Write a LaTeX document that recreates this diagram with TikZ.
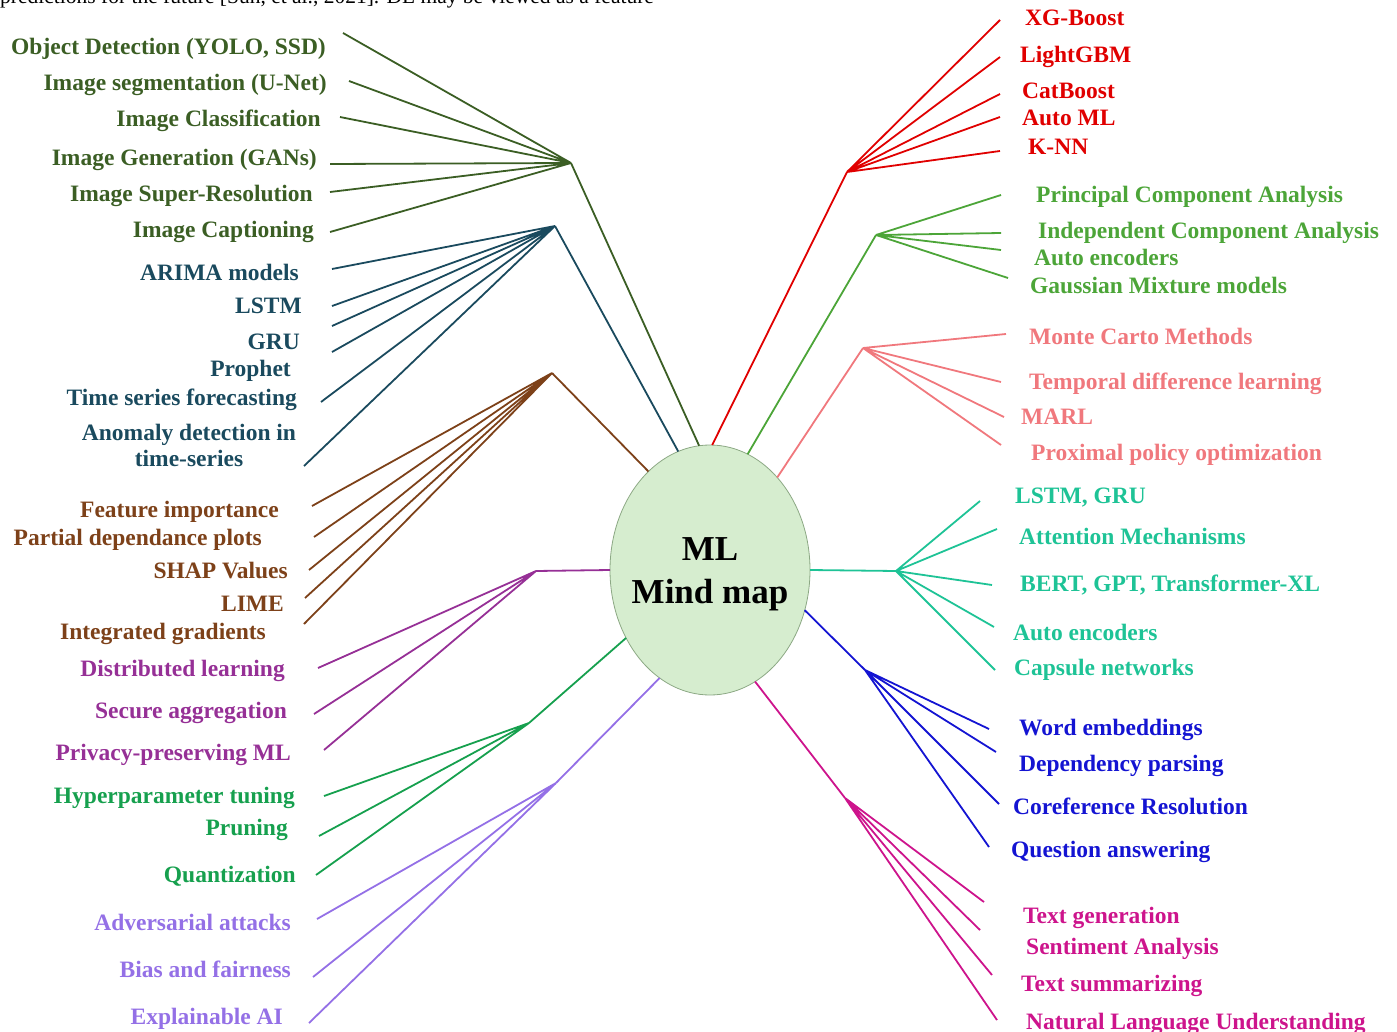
\documentclass[tikz,border=0pt]{standalone}
\usepackage{fontspec}
\setmainfont{Liberation Serif}
\usetikzlibrary{shapes.geometric}
\definecolor{cA}{HTML}{3B5E24}
\definecolor{cB}{HTML}{1A4A5E}
\definecolor{cC}{HTML}{7D4119}
\definecolor{cD}{HTML}{963096}
\definecolor{cE}{HTML}{16A04E}
\definecolor{cF}{HTML}{9470E6}
\definecolor{cG}{HTML}{E00000}
\definecolor{cH}{HTML}{4CA538}
\definecolor{cI}{HTML}{F0787D}
\definecolor{cJ}{HTML}{1EC396}
\definecolor{cK}{HTML}{1414D2}
\definecolor{cL}{HTML}{CD148C}
\definecolor{efill}{HTML}{D6EDCF}
\definecolor{eline}{HTML}{8CA884}
\begin{document}
\begin{tikzpicture}[x=1pt,y=-1pt,
  lbl/.style={font=\fontsize{23.5}{26}\selectfont\bfseries, inner sep=0pt, text height=15pt, text depth=0pt},
  ll/.style={lbl, anchor=east},
  rl/.style={lbl, anchor=west},
  ln/.style={line width=1.8pt}]
\useasboundingbox (0,0) rectangle (1397,1032);

% top cut-off text line (cut off in the reference as well)
\node[anchor=base west, inner sep=0pt, font=\fontsize{21.5}{24}\selectfont] (top) at (0,4) {predictions for the future [Sun, et al., 2021]. DL may be viewed as a feature-};

% centre
\node[ellipse, draw=eline, fill=efill, line width=0.8pt, minimum width=200pt, minimum height=250pt, inner sep=0pt, outer sep=0pt] (c) at (710,570) {};
\node[align=center, inner sep=0pt, font=\fontsize{35}{43}\selectfont\bfseries] (ct) at (710,574) {ML\\Mind map};

% ---------- Group A : computer vision ----------
\coordinate (hA) at (571,163);
\coordinate (a1) at (343,33);
\coordinate (a2) at (349,81);
\coordinate (a3) at (340,117);
\coordinate (a4) at (330,164);
\coordinate (a5) at (330,192);
\coordinate (a6) at (330,232);
\draw[ln, cA] (c.95) -- (hA);
\draw[ln, cA] (hA) -- (a1) (hA) -- (a2) (hA) -- (a3) (hA) -- (a4) (hA) -- (a5) (hA) -- (a6);
\node[ll, text=cA] (la1) at (326,47) {Object Detection (YOLO, SSD)};
\node[ll, text=cA] (la2) at (327,83) {Image segmentation (U-Net)};
\node[ll, text=cA] (la3) at (321,119) {Image Classification};
\node[ll, text=cA] (la4) at (317,158) {Image Generation (GANs)};
\node[ll, text=cA] (la5) at (313,194) {Image Super-Resolution};
\node[ll, text=cA] (la6) at (314,230) {Image Captioning};

% ---------- Group B : time series ----------
\coordinate (hB) at (555,226);
\coordinate (b1) at (332,269);
\coordinate (b2) at (332,306);
\coordinate (b3) at (332,326);
\coordinate (b4) at (332,352);
\coordinate (b5) at (321,402);
\coordinate (b6) at (304,466);
\draw[ln, cB] (c.105) -- (hB);
\draw[ln, cB] (hB) -- (b1) (hB) -- (b2) (hB) -- (b3) (hB) -- (b4) (hB) -- (b5) (hB) -- (b6);
\node[ll, text=cB] (lb1) at (299,273) {ARIMA models};
\node[ll, text=cB] (lb2) at (302,306) {LSTM};
\node[ll, text=cB] (lb3) at (300,342) {GRU};
\node[ll, text=cB] (lb4) at (291,369) {Prophet};
\node[ll, text=cB] (lb5) at (297,398) {Time series forecasting};
\node[lbl, text=cB, align=center, text height=, text depth=] (lb6) at (189,445) {Anomaly detection in\\time-series};

% ---------- Group C : explainability ----------
\coordinate (hC) at (552,373);
\coordinate (c1) at (312,506);
\coordinate (c2) at (314,537);
\coordinate (c3) at (309,570);
\coordinate (c4) at (305,598);
\coordinate (c5) at (304,624);
\draw[ln, cC] (c.122) -- (hC);
\draw[ln, cC] (hC) -- (c1) (hC) -- (c2) (hC) -- (c3) (hC) -- (c4) (hC) -- (c5);
\node[ll, text=cC] (lc1) at (279,510) {Feature importance};
\node[ll, text=cC] (lc2) at (262,538) {Partial dependance plots};
\node[ll, text=cC] (lc3) at (288,571) {SHAP Values};
\node[ll, text=cC] (lc4) at (284,604) {LIME};
\node[ll, text=cC] (lc5) at (266,632) {Integrated gradients};

% ---------- Group D : federated ----------
\coordinate (hD) at (536,571);
\coordinate (d1) at (318,668);
\coordinate (d2) at (314,714);
\coordinate (d3) at (324,750);
\draw[ln, cD] (c.180) -- (hD);
\draw[ln, cD] (hD) -- (d1) (hD) -- (d2) (hD) -- (d3);
\node[ll, text=cD] (ld1) at (285,669) {Distributed learning};
\node[ll, text=cD] (ld2) at (287,711) {Secure aggregation};
\node[ll, text=cD] (ld3) at (291,753) {Privacy-preserving ML};

% ---------- Group E : optimisation ----------
\coordinate (hE) at (529,723);
\coordinate (e1) at (324,796);
\coordinate (e2) at (319,836);
\coordinate (e3) at (316,875);
\draw[ln, cE] (c.219) -- (hE);
\draw[ln, cE] (hE) -- (e1) (hE) -- (e2) (hE) -- (e3);
\node[ll, text=cE] (le1) at (295,796) {Hyperparameter tuning};
\node[ll, text=cE] (le2) at (288,828) {Pruning};
\node[ll, text=cE] (le3) at (296,875) {Quantization};

% ---------- Group F : ethics ----------
\coordinate (hF) at (556,783);
\coordinate (f1) at (317,919);
\coordinate (f2) at (313,977);
\coordinate (f3) at (309,1023);
\draw[ln, cF] (c.245) -- (hF);
\draw[ln, cF] (hF) -- (f1) (hF) -- (f2) (hF) -- (f3);
\node[ll, text=cF] (lf1) at (291,923) {Adversarial attacks};
\node[ll, text=cF] (lf2) at (291,970) {Bias and fairness};
\node[ll, text=cF] (lf3) at (283,1017) {Explainable AI};

% ---------- Group G : boosting ----------
\coordinate (hG) at (847,172);
\coordinate (g1) at (1000,20);
\coordinate (g2) at (1000,57);
\coordinate (g3) at (1000,94);
\coordinate (g4) at (1000,117);
\coordinate (g5) at (1000,151);
\draw[ln, cG] (c.89.5) -- (hG);
\draw[ln, cG] (hG) -- (g1) (hG) -- (g2) (hG) -- (g3) (hG) -- (g4) (hG) -- (g5);
\node[rl, text=cG] (lg1) at (1025,18) {XG-Boost};
\node[rl, text=cG] (lg2) at (1020,55) {LightGBM};
\node[rl, text=cG] (lg3) at (1022,91) {CatBoost};
\node[rl, text=cG] (lg4) at (1022,118) {Auto ML};
\node[rl, text=cG] (lg5) at (1028,147) {K-NN};

% ---------- Group H : unsupervised ----------
\coordinate (hH) at (876,235);
\coordinate (h1) at (1001,195);
\coordinate (h2) at (1001,233);
\coordinate (h3) at (1001,250);
\coordinate (h4) at (1008,278);
\draw[ln, cH] (c.72) -- (hH);
\draw[ln, cH] (hH) -- (h1) (hH) -- (h2) (hH) -- (h3) (hH) -- (h4);
\node[rl, text=cH] (lh1) at (1036,195) {Principal Component Analysis};
\node[rl, text=cH] (lh2) at (1038,231) {Independent Component Analysis};
\node[rl, text=cH] (lh3) at (1034,258) {Auto encoders};
\node[rl, text=cH] (lh4) at (1030,286) {Gaussian Mixture models};

% ---------- Group I : reinforcement ----------
\coordinate (hI) at (863,348);
\coordinate (i1) at (1006,334);
\coordinate (i2) at (1001,382);
\coordinate (i3) at (1004,417);
\coordinate (i4) at (1001,445);
\draw[ln, cI] (c.54) -- (hI);
\draw[ln, cI] (hI) -- (i1) (hI) -- (i2) (hI) -- (i3) (hI) -- (i4);
\node[rl, text=cI] (li1) at (1029,337) {Monte Carto Methods};
\node[rl, text=cI] (li2) at (1029,382) {Temporal difference learning};
\node[rl, text=cI] (li3) at (1021,417) {MARL};
\node[rl, text=cI] (li4) at (1031,453) {Proximal policy optimization};

% ---------- Group J : deep architectures ----------
\coordinate (hJ) at (896,571);
\coordinate (j1) at (980,501);
\coordinate (j2) at (997,529);
\coordinate (j3) at (992,585);
\coordinate (j4) at (994,627);
\coordinate (j5) at (995,670);
\draw[ln, cJ] (c.0) -- (hJ);
\draw[ln, cJ] (hJ) -- (j1) (hJ) -- (j2) (hJ) -- (j3) (hJ) -- (j4) (hJ) -- (j5);
\node[rl, text=cJ] (lj1) at (1015,496) {LSTM, GRU};
\node[rl, text=cJ] (lj2) at (1019,537) {Attention Mechanisms};
\node[rl, text=cJ] (lj3) at (1020,584) {BERT, GPT, Transformer-XL};
\node[rl, text=cJ] (lj4) at (1013,633) {Auto encoders};
\node[rl, text=cJ] (lj5) at (1014,668) {Capsule networks};

% ---------- Group K : NLP ----------
\coordinate (hK) at (865,670);
\coordinate (k1) at (989,729);
\coordinate (k2) at (996,752);
\coordinate (k3) at (999,804);
\coordinate (k4) at (989,847);
\draw[ln, cK] (c.337) -- (hK);
\draw[ln, cK] (hK) -- (k1) (hK) -- (k2) (hK) -- (k3) (hK) -- (k4);
\node[rl, text=cK] (lk1) at (1019,728) {Word embeddings};
\node[rl, text=cK] (lk2) at (1019,764) {Dependency parsing};
\node[rl, text=cK] (lk3) at (1013,807) {Coreference Resolution};
\node[rl, text=cK] (lk4) at (1011,850) {Question answering};

% ---------- Group L : text ----------
\coordinate (hL) at (845,798);
\coordinate (m1) at (984,902);
\coordinate (m2) at (980,930);
\coordinate (m3) at (992,975);
\coordinate (m4) at (997,1020);
\draw[ln, cL] (c.292) -- (hL);
\draw[ln, cL] (hL) -- (m1) (hL) -- (m2) (hL) -- (m3) (hL) -- (m4);
\node[rl, text=cL] (lm1) at (1023,916) {Text generation};
\node[rl, text=cL] (lm2) at (1026,947) {Sentiment Analysis};
\node[rl, text=cL] (lm3) at (1021,984) {Text summarizing};
\node[rl, text=cL] (lm4) at (1026,1022) {Natural Language Understanding};
\end{tikzpicture}
\end{document}
